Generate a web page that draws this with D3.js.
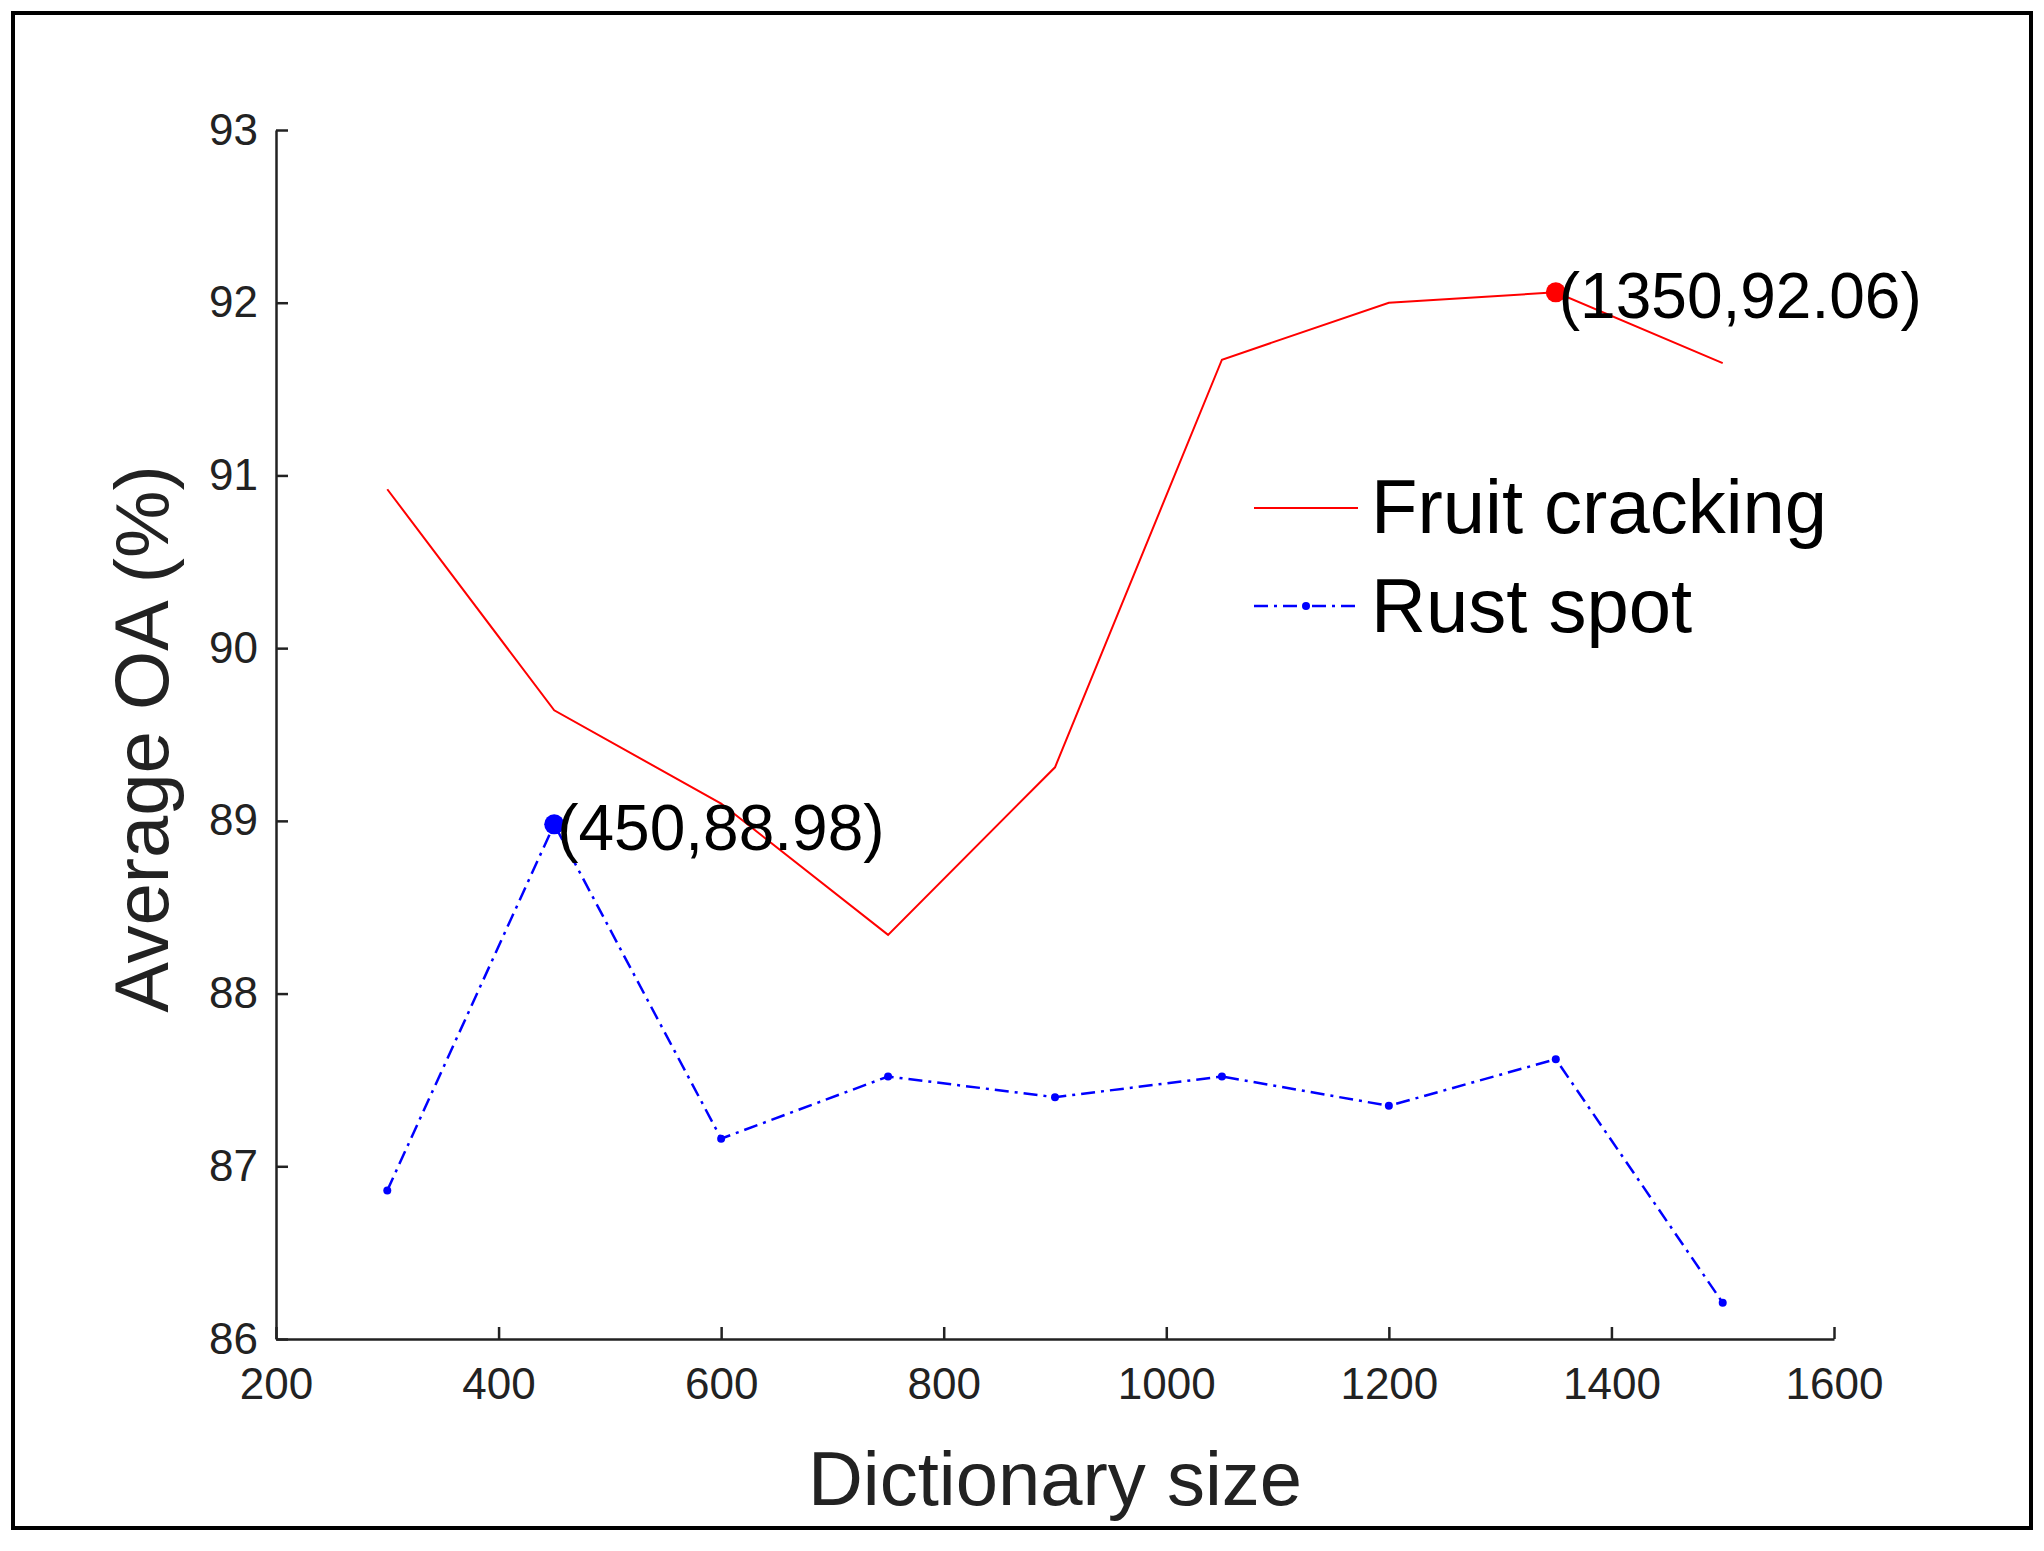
<!DOCTYPE html><html><head><script src="https://cdn.jsdelivr.net/npm/d3@7"></script>
<style>body{margin:0;background:#fff}</style></head><body><svg id="c" width="2044" height="1551"></svg>
<script>
const xValues=[300,450,600,750,900,1050,1200,1350,1500];
const fruitCracking=[90.92,89.64,89.10,88.34,89.31,91.67,92.00,92.06,91.65];
const rustSpot=[86.86,88.98,87.16,87.52,87.40,87.52,87.35,87.62,86.21];
const xTicks=[200,400,600,800,1000,1200,1400,1600];
const yTicks=[86,87,88,89,90,91,92,93];
const svg=d3.select("#c");
const F="Liberation Sans, Arial, sans-serif";
svg.append("rect").attr("x",13).attr("y",13).attr("width",2018).attr("height",1515).attr("fill","none").attr("stroke","#000").attr("stroke-width",4);
const x=d3.scaleLinear().domain([200,1600]).range([276,1834]);
const y=d3.scaleLinear().domain([86,93]).range([1339,130]);
const xa=svg.append("g").attr("transform","translate(0,1339)").call(d3.axisBottom(x).tickValues(xTicks).tickFormat(d3.format("d")).tickSize(-12).tickSizeOuter(0).tickPadding(20));
const ya=svg.append("g").attr("transform","translate(276,0)").call(d3.axisLeft(y).tickValues(yTicks).tickFormat(d3.format("d")).tickSize(-12).tickSizeOuter(0).tickPadding(18));
[xa,ya].forEach(a=>{a.selectAll("path,line").attr("stroke","#222").attr("stroke-width",2.5);a.selectAll("text").attr("font-family",F).attr("font-size",44).attr("fill","#222");});
xa.selectAll("text").attr("dy","0.9em");
svg.append("text").attr("x",1055).attr("y",1505).attr("text-anchor","middle").attr("font-family",F).attr("font-size",76).attr("fill","#222").text("Dictionary size");
svg.append("text").attr("transform","translate(168,739) rotate(-90)").attr("text-anchor","middle").attr("font-family",F).attr("font-size",76).attr("fill","#222").text("Average OA (%)");
const line=d3.line().x((d,i)=>x(xValues[i])).y(d=>y(d));
svg.append("path").datum(fruitCracking).attr("d",line).attr("fill","none").attr("stroke","#f00").attr("stroke-width",2);
svg.append("path").datum(rustSpot).attr("d",line).attr("fill","none").attr("stroke","#00f").attr("stroke-width",2.5).attr("stroke-dasharray","14,6,3,6");
svg.selectAll(".rd").data(rustSpot).enter().append("circle").attr("cx",(d,i)=>x(xValues[i])).attr("cy",d=>y(d)).attr("r",4).attr("fill","#00f");
svg.append("circle").attr("cx",x(1350)).attr("cy",y(92.06)).attr("r",10).attr("fill","#f00");
svg.append("circle").attr("cx",x(450)).attr("cy",y(88.98)).attr("r",10).attr("fill","#00f");
svg.append("text").attr("x",x(1350)+3).attr("y",y(92.06)+26).attr("font-family",F).attr("font-size",64).attr("fill","#000").text("(1350,92.06)");
svg.append("text").attr("x",x(450)+3).attr("y",y(88.98)+26).attr("font-family",F).attr("font-size",64).attr("fill","#000").text("(450,88.98)");
// legend
svg.append("line").attr("x1",1254).attr("x2",1358).attr("y1",508).attr("y2",508).attr("stroke","#f00").attr("stroke-width",2);
svg.append("line").attr("x1",1254).attr("x2",1358).attr("y1",606).attr("y2",606).attr("stroke","#00f").attr("stroke-width",2.5).attr("stroke-dasharray","14,6,3,6");
svg.append("circle").attr("cx",1306).attr("cy",606).attr("r",4).attr("fill","#00f");
svg.append("text").attr("x",1371).attr("y",533).attr("font-family",F).attr("font-size",76).text("Fruit cracking");
svg.append("text").attr("x",1371).attr("y",632).attr("font-family",F).attr("font-size",76).text("Rust spot");
</script></body></html>
